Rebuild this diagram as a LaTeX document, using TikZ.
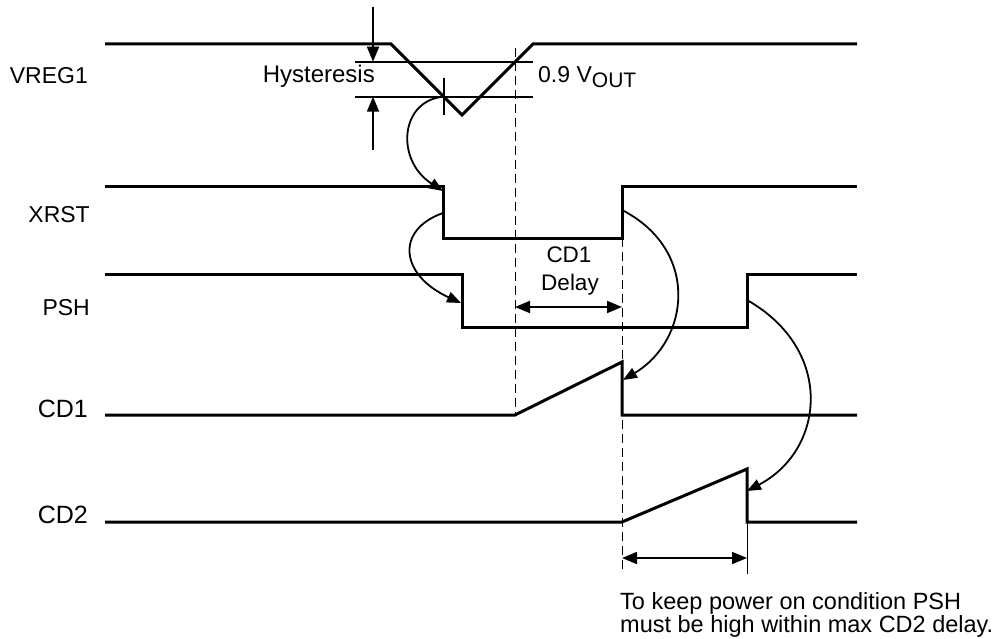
\documentclass[tikz,border=0pt]{standalone}
\usepackage{fontspec}
\setmainfont{Liberation Sans}
\usetikzlibrary{arrows.meta}
\begin{document}
\begin{tikzpicture}[x=1pt,y=-1pt,
  sig/.style={line width=3pt, line join=miter},
  hline/.style={line width=1.8pt},
  guide/.style={line width=1pt, dash pattern=on 9pt off 5pt},
  cause/.style={line width=1.8pt, -{Triangle[length=14pt,width=11pt]}},
  meas/.style={line width=1.8pt, {Triangle[length=15pt,width=12pt]}-{Triangle[length=15pt,width=12pt]}},
  onearrow/.style={line width=1.8pt, -{Triangle[length=15pt,width=12pt]}},
  lbl/.style={inner sep=0pt, font=\fontsize{23}{27}\selectfont},
  biglbl/.style={inner sep=0pt, font=\fontsize{25}{29}\selectfont},
]
\useasboundingbox (0,0) rectangle (1000,639);

% key points
\coordinate (hysA) at (444,96.7);
\coordinate (xrstFall) at (443,191);
\coordinate (xrstFallS) at (443,213);
\coordinate (pshFall) at (461,303);
\coordinate (xrstRise) at (622,210);
\coordinate (cd1Drop) at (623,380);
\coordinate (pshRise) at (747,300);
\coordinate (cd2Drop) at (747,491);

% signals
\draw[sig] (105,44) -- (391,44) -- (462,115) -- (533,44) -- (857,44);
\draw[sig] (105,186) -- (443,186) -- (443,238) -- (622,238) -- (622,186) -- (857,186);
\draw[sig] (105,274) -- (462,274) -- (462,327) -- (747,327) -- (747,274) -- (857,274);
\draw[sig] (105,415) -- (515,415) -- (622,362) -- (622,415) -- (857,415);
\draw[sig] (105,522) -- (622,522) -- (747,469) -- (747,522) -- (857,522);

% hysteresis
\coordinate (hU1) at (355,61.7); \coordinate (hU2) at (533,61.7);
\coordinate (hL1) at (355,96.7); \coordinate (hL2) at (533,96.7);
\draw[hline] (hU1) -- (hU2);
\draw[hline] (hL1) -- (hL2);
\coordinate (aTop) at (373,7); \coordinate (aTopEnd) at (373,61.7);
\coordinate (aBot) at (373,150); \coordinate (aBotEnd) at (373,96.7);
\draw[onearrow] (aTop) -- (aTopEnd);
\draw[onearrow] (aBot) -- (aBotEnd);
\coordinate (tk1) at (444,78); \coordinate (tk2) at (444,115);
\draw[hline] (tk1) -- (tk2);

% guide lines
\coordinate (g1a) at (515,48); \coordinate (g1b) at (515,415);
\draw[guide] (g1a) -- (g1b);
\coordinate (g2a) at (622,238); \coordinate (g2b) at (622,573);
\draw[guide] (g2a) -- (g2b);
\coordinate (g3a) at (747,522); \coordinate (g3b) at (747,574);
\draw[line width=1pt] (g3a) -- (g3b);

% measurement arrows
\coordinate (m1a) at (515,307); \coordinate (m1b) at (622,307);
\draw[meas] (m1a) -- (m1b);
\coordinate (m2a) at (622,558); \coordinate (m2b) at (747,558);
\draw[meas] (m2a) -- (m2b);

% cause arrows
\draw[cause] (hysA) .. controls (400,100) and (395,160) .. (xrstFall);
\draw[cause] (xrstFallS) .. controls (395,230) and (400,275) .. (pshFall);
\draw[cause] (xrstRise) .. controls (700,250) and (690,340) .. (cd1Drop);
\draw[cause] (pshRise) .. controls (835,350) and (825,450) .. (cd2Drop);

% labels
\node[lbl, anchor=base east] (lVREG) at (88,84) {VREG1};
\node[lbl, anchor=base east] (lXRST) at (90,222) {XRST};
\node[lbl, anchor=base east] (lPSH) at (90,315) {PSH};
\node[biglbl, anchor=base east] (lCD1) at (88,417) {CD1};
\node[biglbl, anchor=base east] (lCD2) at (88,523) {CD2};
\node[lbl, anchor=base east, font=\fontsize{24}{28}\selectfont] (lHys) at (375,83) {Hysteresis};
\node[lbl, anchor=base west] (lVout) at (538,83) {0.9 V\raisebox{-5pt}{\fontsize{21}{23}\selectfont OUT}};
\node[lbl, anchor=base, font=\fontsize{22.5}{27}\selectfont] (lCDa) at (569,262) {CD1};
\node[lbl, anchor=base, font=\fontsize{22.5}{27}\selectfont] (lCDb) at (570,290) {Delay};
\node[lbl, anchor=base west, font=\fontsize{23.5}{27}\selectfont] (note1) at (620,609) {To keep power on condition PSH};
\node[lbl, anchor=base west, font=\fontsize{23.5}{27}\selectfont] (note2) at (620,632) {must be high within max CD2 delay.};
\end{tikzpicture}
\end{document}
